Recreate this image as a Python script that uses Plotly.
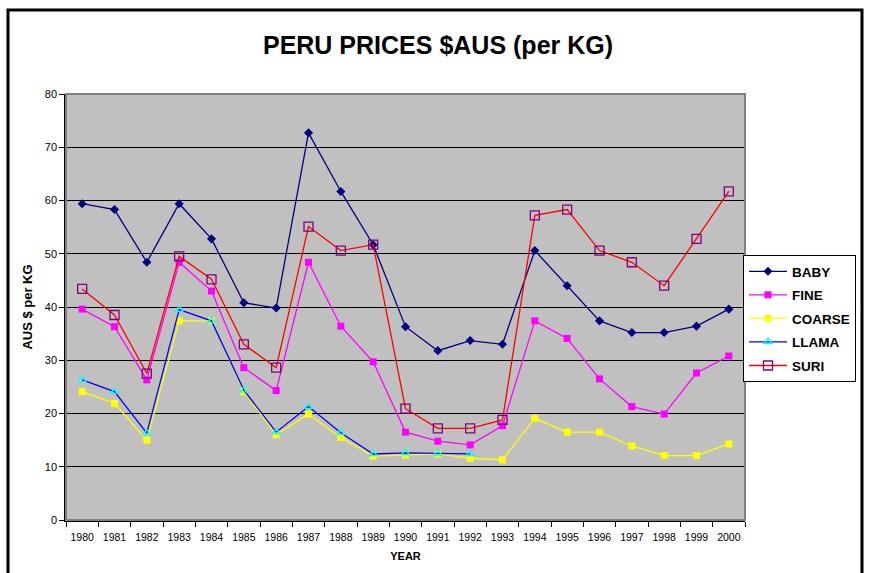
import plotly.graph_objects as go

years = [str(y) for y in range(1980, 2001)]
baby = [59.4, 58.3, 48.4, 59.4, 52.8, 40.8, 39.8, 72.7, 61.7, 51.7, 36.3, 31.8, 33.7, 33.0, 50.6, 44.0, 37.4, 35.2, 35.2, 36.4, 39.6]
fine = [39.6, 36.3, 26.3, 48.4, 43.0, 28.6, 24.3, 48.4, 36.4, 29.7, 16.5, 14.8, 14.1, 17.7, 37.4, 34.1, 26.5, 21.3, 19.9, 27.6, 30.8]
coarse = [24.1, 21.9, 15.0, 37.4, 37.4, 24.1, 16.0, 19.9, 15.5, 12.0, 12.2, 12.4, 11.6, 11.3, 19.1, 16.5, 16.5, 13.9, 12.1, 12.1, 14.3]
llama = [26.3, 24.1, 16.3, 39.5, 37.4, 24.4, 16.5, 21.3, 16.4, 12.4, 12.6, 12.5, 12.4]
suri = [43.4, 38.5, 27.5, 49.5, 45.2, 33.0, 28.6, 55.1, 50.6, 51.7, 20.9, 17.2, 17.2, 18.8, 57.2, 58.3, 50.6, 48.4, 44.0, 52.8, 61.7]
y_ticks = [0, 10, 20, 30, 40, 50, 60, 70, 80]

W, H = 869, 573
L, R, T, B = 66, 745, 94, 520

fig = go.Figure()
fig.add_trace(go.Scatter(x=years, y=baby, name="<b>BABY</b>", mode="lines+markers", legendgroup="a",
                         line=dict(color="#000080", width=1.3),
                         marker=dict(symbol="diamond", size=7, color="#000080")))
fig.add_trace(go.Scatter(x=years, y=fine, name="<b>FINE</b>", mode="lines+markers", legendgroup="b",
                         line=dict(color="#FF00FF", width=1.3),
                         marker=dict(symbol="square", size=7, color="#FF00FF")))
fig.add_trace(go.Scatter(x=years, y=coarse, name="<b>COARSE</b>", mode="lines+markers", legendgroup="c",
                         line=dict(color="#FFFF00", width=1.3),
                         marker=dict(symbol="square", size=7, color="#FFFF00")))
fig.add_trace(go.Scatter(x=years[:len(llama)], y=llama, name="<b>LLAMA</b>", mode="lines+markers",
                         legendgroup="d",
                         line=dict(color="#0000FF", width=1.3),
                         marker=dict(symbol="triangle-up-open", size=7, color="#00FFFF",
                                     line=dict(width=1.3, color="#00FFFF"))))
fig.add_trace(go.Scatter(x=years, y=suri, name="<b>SURI</b>", mode="lines+markers", legendgroup="e",
                         line=dict(color="#FF0000", width=1.3),
                         marker=dict(symbol="square-open", size=9, color="#800080",
                                     line=dict(width=1.3, color="#800080"))))

def px(x):
    return (x - L) / (R - L)

def py(y):
    return (B - y) / (B - T)

shapes = [
    # outer chart frame
    dict(type="rect", xref="paper", yref="paper", x0=px(8), x1=px(862), y0=py(590), y1=py(10),
         line=dict(color="black", width=3), layer="below"),
    # plot area border
    dict(type="rect", xref="paper", yref="paper", x0=0, x1=1, y0=0, y1=1,
         line=dict(color="#808080", width=2), layer="above"),
]

fig.update_layout(
    width=W, height=H,
    margin=dict(l=L, r=W - R, t=T, b=H - B, autoexpand=False),
    paper_bgcolor="white",
    plot_bgcolor="#C0C0C0",
    font=dict(family="Liberation Sans, Arial", color="black"),
    title=dict(text="<b>PERU PRICES $AUS (per KG)</b>", x=438 / W, xanchor="center",
               y=1 - 45 / H, yanchor="middle", font=dict(size=25, color="black")),
    showlegend=True,
    legend=dict(x=px(743), y=py(255), xanchor="left", yanchor="top",
                bgcolor="white", bordercolor="black", borderwidth=1,
                font=dict(size=13.5, family="Liberation Sans, Arial"),
                itemwidth=38, tracegroupgap=3, entrywidth=85, entrywidthmode="pixels"),
    shapes=shapes,
)
fig.update_xaxes(
    type="category", range=[-0.5, len(years) - 0.5], tickson="boundaries", ticks="outside", ticklen=5,
    tickcolor="black", showline=True, linecolor="black", linewidth=1.5,
    showgrid=False, tickfont=dict(size=10.5), tickangle=0, ticklabelstandoff=7,
    title=dict(text="<b>YEAR</b>", font=dict(size=11), standoff=10),
)
fig.update_yaxes(
    range=[0, 80], tickvals=y_ticks, ticks="outside", ticklen=5, tickcolor="black",
    showline=True, linecolor="black", linewidth=1.5,
    showgrid=True, gridcolor="black", gridwidth=1, zeroline=False,
    tickfont=dict(size=11),
    title=dict(text="<b>AUS $ per KG</b>", font=dict(size=13), standoff=9),
)
fig.update_traces(cliponaxis=False)

fig.write_html("out.html", config={"displayModeBar": False},
               post_script="document.body.style.margin='0';document.body.style.overflow='hidden';")
